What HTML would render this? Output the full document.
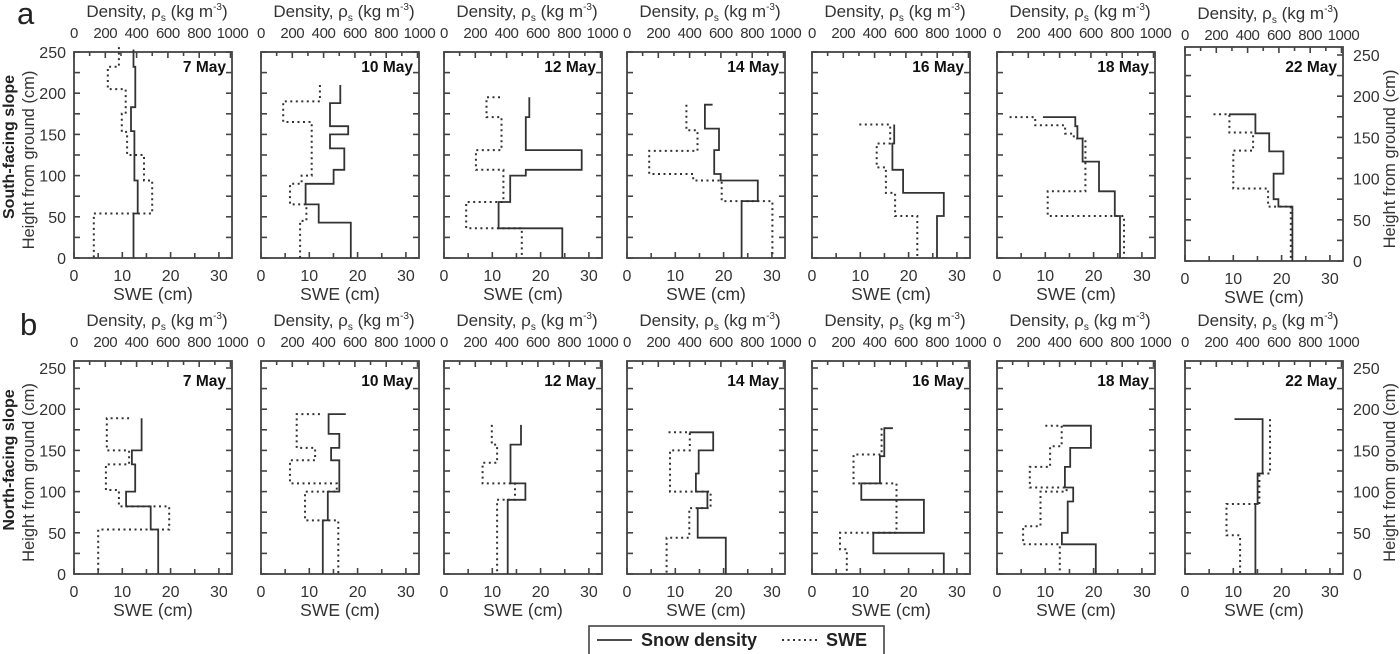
<!DOCTYPE html>
<html><head><meta charset="utf-8"><style>
html,body{margin:0;padding:0;background:#fff;}
svg{display:block;font-family:"Liberation Sans",sans-serif;}
</style></head><body>
<svg id="fig" width="1400" height="654" viewBox="0 0 1400 654"></svg>
<script>
const dates = ["7 May","10 May","12 May","14 May","16 May","18 May","22 May"];
const densityTicks = [0,200,400,600,800,1000];
const sweTicks = [0,10,20,30];
const heightTicks = [0,50,100,150,200,250];
// Row a (south-facing) snow density: layer tops (cm) and values (kg m-3)
const aDenTops = [[253,232,183,154,94,54,0],[210,188,160,150,133,107,90,65,43,0],[195,171,131,107,100,68,36,0],[186,186,157,131,102,94,69,0],[162,139,107,79,51,0],[171,171,160,145,117,81,51,0],[178,178,155,133,106,75,66,0]];
const aDenVals = [[380,392,364,386,407,380],[507,441,557,441,532,464,285,369,574],[545,523,880,523,423,349,756],[547,498,588,557,599,836,732],[525,514,582,842,799],[293,500,514,547,652,753,786],[281,450,538,629,566,597,686]];
// Row a SWE (cm)
const aSweTops = [[256,232,205,175,153,125,94,54,0],[210,190,165,100,90,65,45,0],[195,195,171,131,107,68,36,0],[186,155,130,102,94,69,0],[162,162,139,110,79,51,0],[171,171,161,151,145,81,51,0],[178,178,156,134,88,66,0]];
const aSweVals = [[9.3,7.0,10.7,9.9,11.0,14.5,16.2,4.1],[12.2,4.6,10.5,8.4,6.0,9.4,8.1],[11.6,8.8,11.9,6.6,12.3,4.6,16.1],[12.3,14.6,4.6,13.7,19.6,30.1],[9.8,16.2,13.4,15.3,17.2,21.8],[2.6,7.9,14.1,15.9,18.3,10.5,26.3],[5.9,9.2,14.1,10.0,17.2,21.9]];
// Row b (north-facing)
const bDenTops = [[189,150,133,100,82,54,0],[194,194,170,153,138,100,65,0],[181,157,110,90,0],[172,172,150,122,100,80,44,0],[177,177,143,110,90,50,25,0],[180,180,153,130,105,88,50,36,0],[188,188,122,85,0]];
const bDenVals = [[432,370,391,333,490,538],[542,432,500,448,500,427,395],[492,425,520,407],[398,551,458,440,514,452,631],[517,462,434,315,715,392,842],[420,600,468,434,487,452,415,631],[316,496,464,450]];
const bSweTops = [[189,189,150,133,102,82,54,0],[194,194,153,138,110,100,65,0],[181,157,135,110,90,0],[172,172,150,100,80,44,0],[177,145,110,50,30,0],[180,180,155,130,105,100,58,36,0],[188,122,85,47,0]];
const bSweVals = [[11.4,6.8,11.4,6.6,9.3,19.7,5.0],[12.2,7.4,11.2,6.0,15.7,9.1,16.0],[9.9,11.0,8.0,14.7,11.0],[8.6,13.0,8.9,17.3,12.9,8.2],[14.4,8.6,17.5,5.8,7.2],[10.0,13.4,11.0,6.8,14.4,9.0,5.4,13.0],[17.6,15.4,8.6,11.4]];

const NS="http://www.w3.org/2000/svg";
const svg=document.getElementById('fig');
const lefts=[74,261,444,627,812,997,1185];
const W=158, SWEPX=4.83, DENPX=0.1565, HPX=0.824;
function mk(tag,attrs,parent){const e=document.createElementNS(NS,tag);for(const k in attrs)e.setAttribute(k,attrs[k]);(parent||svg).appendChild(e);return e;}
function txt(x,y,s,attrs,parent){const t=mk('text',Object.assign({x:x,y:y,fill:'#333','font-size':16},attrs||{}),parent);t.textContent=s;return t;}

function stepPath(tops,vals,xf,yf){
  let d='M'+xf(vals[0]).toFixed(1)+' '+yf(tops[0]).toFixed(1);
  for(let i=0;i<vals.length;i++){
    d+=' H'+xf(vals[i]).toFixed(1)+' V'+yf(tops[i+1]).toFixed(1);
  }
  return d;
}

function panel(row,i,bottom,top,labelTop,denTops,denVals,sweTops,sweVals){
  const L=lefts[i], R=L+W;
  const g=mk('g',{});
  
  
  const yf=h=>bottom-h*HPX;
  const xs=v=>L+v*SWEPX;
  const xd=v=>L+v*DENPX;
  const fr=mk('rect',{x:L,y:top,width:W,height:bottom-top,fill:'none',stroke:'#444','stroke-width':1.8},g);
  
  
  for(let h=0;h<=250;h+=25){const y=yf(h);if(y<top-0.5)continue;
    mk('line',{x1:L,x2:L+6,y1:y,y2:y,stroke:'#444','stroke-width':1.6},g);
    mk('line',{x1:R,x2:R-6,y1:y,y2:y,stroke:'#444','stroke-width':1.6},g);}
  for(let d=0;d<=1000;d+=100){const x=xd(d);if(x>R)continue;
    mk('line',{x1:x,x2:x,y1:top,y2:top+(d%200==0?6:4),stroke:'#444','stroke-width':1.6},g);}
  for(let s=0;s<=32;s+=5){const x=xs(s);
    mk('line',{x1:x,x2:x,y1:bottom,y2:bottom-(s%10==0?6:5),stroke:'#444','stroke-width':1.6},g);}
  const tl=txt(L+W/2+4,labelTop-35,'',{'text-anchor':'middle','font-size':17},g);
  
  
  tl.innerHTML='Density, ρ<tspan font-size="10" dy="4">s</tspan><tspan dy="-4">  (kg m</tspan><tspan font-size="10" dy="-7">-3</tspan><tspan dy="7">)</tspan>';
  densityTicks.forEach(d=>{const t=txt(xd(d)+(d==1000?2:0),labelTop-14,String(d),{'text-anchor':'middle','font-size':15,'letter-spacing':'-0.4'},g);
    });
  sweTicks.forEach(s=>{const t=txt(xs(s),bottom+23,String(s),{'text-anchor':'middle','font-size':16},g);
    });
  const sl=txt(L+W/2,bottom+42,'SWE (cm)',{'text-anchor':'middle','font-size':17.5},g);
  
  const dl=txt(R-6,top+(row=='a'&&i<6?20:25),dates[i],{'text-anchor':'end','font-size':15.5,'font-weight':'bold',fill:'#111'},g);
  
  const p1=mk('path',{d:stepPath(denTops,denVals,xd,yf),fill:'none',stroke:'#333','stroke-width':1.8},g);
  
  const p2=mk('path',{d:stepPath(sweTops,sweVals,xs,yf),fill:'none',stroke:'#333','stroke-width':2,'stroke-dasharray':'2 3.5'},g);
  
  if(i==0||i==6){
    heightTicks.forEach(h=>{const x=i==0?L-8:R+10;const t=txt(x,yf(h)+6,String(h),{'text-anchor':i==0?'end':'start','font-size':16},g);
      });
    const cx=i==0?L-40:R+52, cy=(top+bottom)/2+5;
    const ht=txt(cx,cy,'Height from ground (cm)',{'text-anchor':'middle','font-size':16.5,transform:'rotate(-90 '+cx+' '+cy+')'},g);
    
  }
}
for(let i=0;i<7;i++){
  const top=i==6?47:52, bottom=i==6?261:258;
  panel('a',i,bottom,top,i==6?54:52,aDenTops[i],aDenVals[i],aSweTops[i],aSweVals[i]);
}
for(let i=0;i<7;i++){
  panel('b',i,574,361,361,bDenTops[i],bDenVals[i],bSweTops[i],bSweVals[i]);
}
const la=txt(17,24,'a',{'font-size':31,fill:'#222'});
const lb=txt(20,335,'b',{'font-size':31,fill:'#222'});
const sa=txt(14,147,'South-facing slope',{'text-anchor':'middle','font-size':16,'font-weight':'bold',fill:'#222',transform:'rotate(-90 14 147)'});

const sb=txt(14,460,'North-facing slope',{'text-anchor':'middle','font-size':16,'font-weight':'bold',fill:'#222',transform:'rotate(-90 14 460)'});

const lg=mk('g',{});

mk('rect',{x:589,y:626,width:295,height:32,fill:'#fff',stroke:'#444','stroke-width':1.6},lg);
const e1=mk('line',{x1:597,x2:632,y1:640,y2:640,stroke:'#333','stroke-width':1.8},lg);

const t1=txt(641,646,'Snow density',{'font-size':18,'font-weight':'bold',fill:'#222'},lg);

const e2=mk('line',{x1:782,x2:819,y1:640,y2:640,stroke:'#333','stroke-width':2,'stroke-dasharray':'2 3.5'},lg);

const t2=txt(826,646,'SWE',{'font-size':18,'font-weight':'bold',fill:'#222'},lg);

</script>
</body></html>
